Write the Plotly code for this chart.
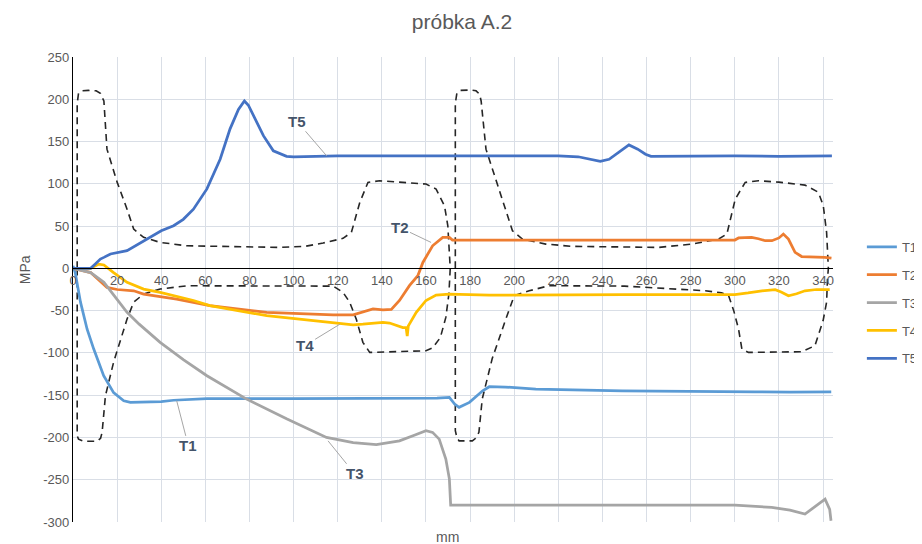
import plotly.graph_objects as go

# ---------------- data ----------------
t1_x = [0, 1, 3.4, 6.4, 9.4, 13.9, 18.4, 23, 26, 35, 40, 45.6, 60.7, 100, 140, 165, 170.6, 173, 175, 179.7, 185.7, 188.7, 196, 209.8, 249, 280, 309, 325, 343.7]
t1_y = [3, -5, -40, -72, -95.5, -127, -147, -156.6, -158.5, -158, -157.5, -156, -154, -154, -154, -153.5, -152.6, -160.5, -164.4, -158.5, -144.8, -140, -140.4, -142.7, -144.8, -145, -146, -146.5, -146]

t2_x = [0, 8, 15.4, 20, 27.5, 32, 47, 57.6, 62, 87.8, 117.9, 127, 132, 136, 140.5, 144.3, 148, 152.5, 156.3, 158.6, 163, 167.6, 170.6, 172, 188.7, 250, 300, 301.7, 307.6, 310.7, 313.8, 316.8, 320, 322, 324.3, 327.3, 330.3, 340.8, 343.8]
t2_y = [0, -5, -22.5, -25, -26.5, -30.4, -36.3, -42, -44, -52, -55, -55, -51, -48, -49, -48.5, -38, -20.5, -8.7, 7, 26.7, 36.7, 36.7, 33.5, 33.5, 33.5, 33.5, 36, 36.5, 35, 32.7, 32.7, 36, 40.6, 34.6, 19, 14, 13, 12]

t3_x = [0, 8, 14, 20, 24.5, 30, 39.5, 50, 60.7, 78.7, 96.8, 114.9, 127, 137.5, 148, 155, 160, 163, 166, 169, 170.6, 171.2, 180, 220, 260, 286.6, 300, 316.7, 325, 331.8, 336, 340.9, 343, 343.6]
t3_y = [0, -5, -16.5, -36, -52, -66, -87.5, -108, -127, -154.6, -178, -200, -206, -208.6, -204, -197, -192, -194, -202, -225.5, -249, -280, -280, -280, -280, -280, -280, -282.7, -286, -290.6, -282.7, -273, -285, -298.5]

t4_x = [0, 8, 11.7, 14, 18.4, 24.5, 32, 39.5, 54.6, 62, 87.8, 117.9, 127, 131.4, 140.5, 143.5, 149.5, 151, 151.5, 152, 155.6, 160, 164.6, 170.6, 188.7, 250, 286.6, 300, 306, 312.3, 318.3, 321, 324.3, 328, 331.8, 337, 343]
t4_y = [0, 0, 5, 4, -5, -16.5, -24.5, -28.4, -38, -44, -56, -64, -66.7, -66, -64, -64.7, -70, -70, -80, -68, -52, -38, -31.6, -30.4, -31.6, -31, -31, -31, -29, -26.5, -25.3, -28, -32.4, -30, -26.5, -25, -25]

t5_x = [0, 8, 10, 12.4, 14, 17, 24.5, 30, 36.5, 40, 45.6, 50, 54.6, 60.7, 66.7, 71.2, 75, 77.7, 79.5, 81.8, 86.3, 90.8, 96.8, 100, 120, 140, 160, 180, 200, 220, 229, 235, 239, 243, 248, 252, 256, 259.5, 262, 280, 300, 320, 344]
t5_y = [0, 0, 5, 11, 13, 17, 21, 29, 38.6, 44.5, 50.4, 58, 70, 94, 129, 165, 188, 198, 193, 180.5, 157, 139, 132.5, 132, 133, 133, 133, 132.5, 133, 133, 132, 128.5, 126.5, 129, 139, 146, 141, 135, 132.5, 133, 133, 132.5, 133]

# specimen outline (dashed), left and right part
prof1_x = [1.9, 1.9, 2.5, 4, 7, 10.5, 12.4, 13.5, 14, 15.4, 20, 24.5, 27.5, 32, 39.5, 51.6, 72.7, 93.8, 105, 113.4, 122.4, 126.2, 130, 133.7, 139, 150, 160, 164.6, 168.4, 169.9, 171,
           170.4, 169, 166.5, 163, 160, 134.5, 131.4, 128.4, 125.4, 122.4, 117.9, 51.6, 39.5, 32, 27.5, 24.5, 18.4, 14.7, 13.2, 12.5, 10.9, 4.9, 2.5, 1.9, 1.9]
prof1_y = [0, 195, 207, 210, 210.5, 210, 207, 202, 198, 141, 102, 70, 46.5, 36.7, 30.7, 26.7, 26, 24.8, 26, 30, 35.5, 42.6, 78, 101.7, 103.6, 102, 99.7, 93.8, 74, 50.4, 0,
           -30, -58, -82, -94, -97.5, -99.4, -87.5, -60, -40, -28.4, -21, -20.6, -24.5, -30.4, -40, -60, -111, -150.7, -194, -201, -204.5, -204.5, -202, -198, 0]

prof2_x = [173.3, 173.3, 174, 175.5, 180, 182.7, 184.3, 185, 187.2, 193.2, 199.2, 203.7, 214.3, 226.4, 250, 265.5, 280.6, 292.7, 296.4, 300.2, 304.7, 310.7, 320, 331.8, 337.9, 340.1, 341.6, 342.4,
           342, 341.6, 340, 337.9, 336.3, 330.3, 306.2, 303.2, 301.7, 299.5, 297.2, 294, 286.6, 250, 215.8, 206.8, 200, 196.2, 190, 185.5, 184, 182.5, 181, 175, 174, 173.3, 173.3]
prof2_y = [0, 195, 207, 210.5, 211, 210, 206, 198, 141, 94, 44.5, 34.7, 28.7, 26, 25, 24.8, 28.7, 34.7, 40.6, 82, 101.7, 103.6, 102, 98.5, 90, 74, 42.6, 0,
           -12.7, -40, -62, -78, -91.5, -98.6, -99.4, -95.5, -72, -50, -32.4, -29, -26.5, -21, -20.5, -26.5, -32.4, -60, -107, -154.6, -194, -201, -204, -204, -200, -192, 0]

series_names = ["T1", "T2", "T3", "T4", "T5"]
series_colors = ["#5B9BD5", "#ED7D31", "#A5A5A5", "#FFC000", "#4472C4"]
series_x = [t1_x, t2_x, t3_x, t4_x, t5_x]
series_y = [t1_y, t2_y, t3_y, t4_y, t5_y]

x_ticks = list(range(0, 341, 20))
y_ticks = list(range(-300, 251, 50))

# label positions (label x, label y, target x, target y)
labels = [
    ("T5", 101.5, 174, 115, 133),
    ("T2", 148, 48.5, 162.3, 30.7),
    ("T4", 105, -91.5, 121, -66),
    ("T1", 52.3, -210, 47, -156.6),
    ("T3", 127.7, -243, 115.6, -204),
]

TEXT = "#595959"
FONT = "Liberation Sans"

fig = go.Figure()

fig.add_trace(go.Scatter(x=prof1_x + [None] + prof2_x, y=prof1_y + [None] + prof2_y,
                         mode="lines", line=dict(color="#262626", width=1.6, dash="7px,5px"),
                         showlegend=False, hoverinfo="skip"))

for n, c, xs, ys in zip(series_names, series_colors, series_x, series_y):
    fig.add_trace(go.Scatter(x=xs, y=ys, name=n, mode="lines",
                             line=dict(color=c, width=2.75), legendgroup=n))

for txt, lx, ly, px, py in labels:
    fig.add_annotation(x=px, y=py, ax=lx, ay=ly, axref="x", ayref="y", xref="x", yref="y",
                       text="<b>" + txt + "</b>", showarrow=True, arrowhead=0, arrowwidth=1,
                       arrowcolor="#A6A6A6",
                       font=dict(family=FONT, size=15, color="#44546A"), standoff=0)

fig.add_annotation(text="mm", x=0.493, y=-0.032, xref="paper", yref="paper", showarrow=False,
                   font=dict(family=FONT, size=14, color=TEXT), yanchor="middle")
fig.add_annotation(text="MPa", x=-0.076, y=0.542, xref="paper", yref="paper", showarrow=False,
                   textangle=-90, font=dict(family=FONT, size=14, color=TEXT))

# the page body has an 8px default margin; the figure is sized so it fills the 922x544 window
fig.update_layout(
    width=914, height=536,
    paper_bgcolor="white", plot_bgcolor="white",
    margin=dict(l=65, r=89, t=49, b=22, autoexpand=False),
    title=dict(text="próbka A.2", x=(462 - 8 - 65) / 760, xref="paper", xanchor="center",
               y=1 - 14 / 536, yanchor="middle", yref="container",
               font=dict(family=FONT, size=21, color=TEXT)),
    font=dict(family=FONT, size=13, color=TEXT),
    xaxis=dict(range=[0, 344.5], tickvals=x_ticks, ticktext=[str(v) for v in x_ticks],
               showgrid=True, gridcolor="#D9DEE6", gridwidth=1, zeroline=False,
               showline=True, linecolor="black", linewidth=1.2,
               anchor="free", position=(300 / 550), ticks="",
               tickfont=dict(family=FONT, size=13, color=TEXT)),
    yaxis=dict(range=[-300, 250], tickvals=y_ticks, ticktext=[str(v) for v in y_ticks],
               showgrid=True, gridcolor="#D9DEE6", gridwidth=1, zeroline=False,
               showline=True, linecolor="black", linewidth=1.2, ticks="",
               tickfont=dict(family=FONT, size=13, color=TEXT)),
    legend=dict(x=1.038, y=0.624, xanchor="left", yanchor="top", traceorder="grouped",
                tracegroupgap=8, font=dict(family=FONT, size=13, color=TEXT),
                bgcolor="rgba(0,0,0,0)", itemwidth=30),
    showlegend=True,
)

fig.write_html("out.html")
